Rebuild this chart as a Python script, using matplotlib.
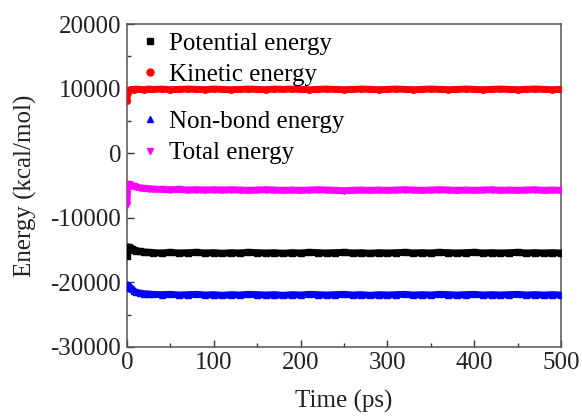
import matplotlib
matplotlib.use('Agg')
import matplotlib.pyplot as plt
from matplotlib.lines import Line2D
from matplotlib.ticker import MultipleLocator

plt.rcParams['font.family'] = ['Liberation Serif', 'DejaVu Serif']
plt.rcParams['axes.unicode_minus'] = False

# time (ps)
time = [0, 1, 2, 4, 6, 8, 10, 15, 20, 25,
        30, 40, 50, 60, 70, 80, 90, 100, 110, 120,
        130, 140, 150, 160, 170, 180, 190, 200, 210, 220,
        230, 240, 250, 260, 270, 280, 290, 300, 310, 320,
        330, 340, 350, 360, 370, 380, 390, 400, 410, 420,
        430, 440, 450, 460, 470, 480, 490, 500]

# energies (kcal/mol)
potential = [-15900, -14600, -14500, -14650, -14800, -15000, -15100, -15200, -15300, -15350,
             -15400, -15450, -15350, -15450, -15400, -15350, -15450, -15400, -15500, -15400,
             -15450, -15350, -15400, -15450, -15400, -15500, -15400, -15450, -15350, -15400,
             -15450, -15400, -15350, -15450, -15400, -15500, -15400, -15450, -15400, -15350,
             -15450, -15400, -15450, -15350, -15400, -15450, -15400, -15350, -15450, -15400,
             -15450, -15400, -15350, -15450, -15400, -15450, -15400, -15450]
kinetic = [8100, 9400, 9750, 9850, 9900, 9850, 9950, 9900, 9850, 9950,
           9900, 9950, 9850, 9900, 9950, 9900, 9850, 9950, 9900, 9850,
           9900, 9950, 9900, 9850, 9950, 9900, 9950, 9900, 9850, 9900,
           9950, 9900, 9850, 9900, 9950, 9900, 9850, 9900, 9950, 9900,
           9850, 9900, 9950, 9900, 9850, 9900, 9950, 9900, 9850, 9900,
           9950, 9900, 9850, 9900, 9950, 9900, 9850, 9900]
nonbond = [-20800, -20400, -20500, -20800, -21000, -21300, -21500, -21650, -21750, -21800,
           -21850, -21900, -21850, -21950, -21900, -21850, -21950, -21900, -22000, -21900,
           -21950, -21850, -21900, -21950, -21900, -22000, -21900, -21950, -21850, -21900,
           -21950, -21900, -21850, -21950, -21900, -22000, -21900, -21950, -21900, -21850,
           -21950, -21900, -21950, -21850, -21900, -21950, -21900, -21850, -21950, -21900,
           -21950, -21900, -21850, -21950, -21900, -21950, -21900, -21950]
total = [-8000, -5000, -4800, -4900, -5000, -5100, -5200, -5350, -5450, -5500,
         -5550, -5600, -5650, -5600, -5700, -5650, -5700, -5650, -5700, -5650,
         -5700, -5750, -5700, -5650, -5700, -5750, -5700, -5750, -5700, -5650,
         -5700, -5750, -5800, -5750, -5700, -5750, -5700, -5750, -5700, -5650,
         -5700, -5750, -5700, -5650, -5700, -5750, -5700, -5750, -5700, -5650,
         -5750, -5700, -5750, -5700, -5650, -5750, -5700, -5750]

series = [
    (potential, 'black', 's', 'Potential energy'),
    (kinetic, 'red', 'o', 'Kinetic energy'),
    (nonbond, 'blue', '^', 'Non-bond energy'),
    (total, 'magenta', 'v', 'Total energy'),
]

fig = plt.figure(figsize=(5.82, 4.17), dpi=100)
ax = fig.add_axes([0.218, 0.168, 0.746, 0.774])

for vals, c, m, lab in series:
    ax.plot(time, vals, color=c, lw=5, marker=m, ms=4, mec=c, mfc=c,
            solid_capstyle='butt', zorder=3)

ax.set_xlim(0, 500)
ax.set_ylim(-30000, 20000)
ax.xaxis.set_major_locator(MultipleLocator(100))
ax.xaxis.set_minor_locator(MultipleLocator(50))
ax.yaxis.set_major_locator(MultipleLocator(10000))
ax.yaxis.set_minor_locator(MultipleLocator(5000))
ax.tick_params(which='both', direction='in', labelsize=18, colors='#333333',
               labelcolor='#222222', pad=4)
ax.tick_params(which='major', length=5, width=1)
ax.tick_params(which='minor', length=3, width=1)
for s in ax.spines.values():
    s.set_color('#555555')
    s.set_linewidth(1.1)

ax.set_xlabel('Time (ps)', fontsize=18, color='#222222', labelpad=11)
ax.set_ylabel('Energy (kcal/mol)', fontsize=18, color='#222222', labelpad=10)

h = [Line2D([], [], ls='none', marker=m, color=c, ms=5) for _, c, m, _ in series]
labs = [s[3] for s in series]
leg1 = ax.legend(h[:2], labs[:2], loc='center left', bbox_to_anchor=(0.025, 0.892),
                 frameon=False, fontsize=18, handlelength=1, handletextpad=0.25,
                 labelspacing=0.35, borderpad=0, borderaxespad=0)
ax.add_artist(leg1)
ax.legend(h[2:], labs[2:], loc='center left', bbox_to_anchor=(0.025, 0.649),
          frameon=False, fontsize=18, handlelength=1, handletextpad=0.25,
          labelspacing=0.35, borderpad=0, borderaxespad=0)

fig.savefig('out.png', dpi=100)
